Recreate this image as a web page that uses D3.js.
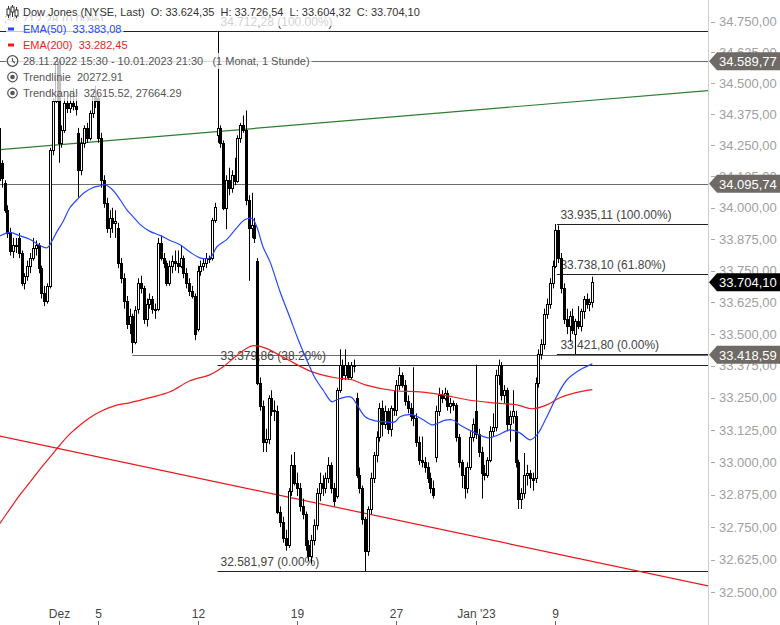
<!DOCTYPE html>
<html><head><meta charset="utf-8">
<script src="https://cdn.jsdelivr.net/npm/d3@7"></script>
<style>
body{margin:0;background:#fff}
svg{display:block;font-family:"Liberation Sans",Arial,sans-serif}
</style>
</head><body>
<svg id="chart" width="780" height="625"></svg>
<script>
// ---------- DATA ----------
// hourly candles 28.11.2022 15:30 .. 10.01.2023 21:30, [open, high, low, close]
const ohlc = [
[34320,34340,34080,34110],[34180,34190,34080,34120],[34100,34110,33980,33990],[33990,34010,33880,33900],[33900,33920,33810,33830],[33830,33880,33800,33850],[33850,33880,33820,33849],
[33880,33900,33800,33820],[33820,33830,33690,33700],[33700,33740,33676,33730],[33730,33790,33710,33770],[33770,33820,33740,33800],[33800,33880,33790,33840],[33840,33870,33810,33852],
[33852,33860,33740,33760],[33760,33770,33640,33660],[33660,33690,33610,33630],[33630,33700,33620,33690],[33690,34240,33680,34230],[34230,34440,34210,34430],[34430,34600,34420,34589.77],
[34589.77,34596,34180,34260],[34260,34330,34240,34310],[34310,34440,34300,34420],[34420,34450,34380,34400],[34400,34470,34380,34420],[34420,34480,34390,34410],[34410,34440,34370,34395],
[34300,34320,34040,34150],[34150,34280,34130,34260],[34260,34330,34240,34320],[34320,34340,34260,34280],[34280,34390,34270,34380],[34380,34470,34360,34450],[34450,34490,34400,34429],
[34440,34460,34260,34280],[34280,34300,34080,34110],[34110,34130,34000,34020],[34020,34040,33900,33920],[33920,33990,33880,33960],[33960,34000,33900,33940],[33940,33990,33880,33947],
[33920,33940,33760,33780],[33780,33800,33700,33720],[33720,33740,33600,33630],[33630,33650,33520,33540],[33540,33600,33500,33570],[33570,33580,33425,33470],[33470,33610,33460,33596],
[33600,33720,33580,33700],[33700,33730,33660,33680],[33680,33690,33540,33560],[33560,33640,33530,33620],[33620,33660,33600,33640],[33640,33650,33580,33600],[33600,33620,33560,33597],
[33600,33880,33590,33860],[33860,33890,33790,33800],[33800,33820,33760,33780],[33780,33790,33690,33700],[33700,33790,33690,33770],[33770,33810,33740,33790],[33790,33830,33750,33781],
[33781,33830,33740,33770],[33770,33850,33760,33800],[33800,33810,33720,33740],[33740,33760,33680,33700],[33700,33720,33650,33670],[33670,33690,33640,33650],[33650,33660,33476,33500],
[33520,33770,33510,33750],[33750,33790,33730,33770],[33770,33800,33750,33780],[33780,33820,33760,33800],[33800,33810,33780,33800],[33800,33960,33790,33950],[33950,34020,33940,34005],
[34290,34712.28,34260,34320],[34320,34330,34240,34260],[34260,34270,33990,34000],[34000,34130,33915,34110],[34110,34160,34050,34080],[34080,34150,34060,34130],[34130,34200,34090,34108],
[34108,34290,34100,34280],[34280,34340,34260,34330],[34330,34370,34300,34310],[34310,34390,34010,34030],[34030,34050,33710,33920],[33920,34060,33880,33930],[33930,33960,33860,33880],
[33790,33800,33300,33310],[33310,33330,33200,33220],[33220,33240,33040,33080],[33080,33130,33040,33090],[33090,33260,33070,33250],[33250,33280,33180,33200],[33200,33240,33160,33202],
[33200,33220,32800,32810],[32810,32830,32750,32770],[32770,32790,32690,32710],[32710,32740,32660,32680],[32680,32900,32670,32890],[32890,33030,32870,32990],[32990,33040,32910,32920],
[32920,32960,32870,32900],[32900,32920,32810,32830],[32830,32860,32780,32800],[32800,32810,32660,32680],[32680,32700,32620,32640],[32640,32720,32610,32700],[32700,32780,32680,32757],
[32757,32900,32740,32880],[32880,32960,32850,32920],[32920,32950,32870,32900],[32900,32960,32880,32940],[32940,33020,32920,32990],[32990,33000,32880,32900],[32900,32920,32830,32850],
[32870,33290,32860,33280],[33280,33440,33270,33380],[33380,33400,33320,33340],[33340,33440,33320,33380],[33380,33390,33320,33330],[33330,33390,33320,33380],[33380,33400,33350,33376],
[33250,33270,32940,32950],[32950,32980,32880,32900],[32900,32910,32760,32780],[32780,32790,32581.97,32660],[32660,32830,32640,32820],[32820,32960,32800,32940],[32940,33040,32920,33027],
[33027,33120,33000,33100],[33100,33230,33080,33210],[33210,33240,33100,33150],[33150,33220,33130,33200],[33200,33210,33110,33130],[33130,33220,33100,33210],[33210,33280,33180,33203],
[33203,33320,33180,33300],[33300,33370,33280,33340],[33340,33350,33290,33300],[33300,33320,33220,33240],[33240,33260,33190,33210],[33210,33230,33160,33180],[33180,33370,33140,33170],
[33170,33190,33060,33080],[33080,33100,32990,33010],[33010,33100,32980,33000],[33000,33020,32960,32980],[32980,33000,32920,32940],[32940,32960,32880,32900],[32900,32930,32860,32875],
[33020,33220,33000,33200],[33200,33290,33180,33260],[33260,33280,33230,33250],[33250,33290,33240,33270],[33270,33280,33200,33220],[33220,33250,33190,33230],[33230,33240,33200,33221],
[33221,33230,33080,33100],[33100,33110,32980,33000],[33000,33010,32900,32950],[32950,32980,32860,32900],[32900,33000,32880,32980],[32980,33120,32970,33100],[33100,33170,33080,33147],
[33200,33380,33090,33110],[33110,33130,33020,33040],[33040,33060,32860,32960],[32960,32990,32930,32950],[32950,33020,32940,33010],[33010,33140,33000,33120],[33120,33190,33100,33136],
[33136,33360,33120,33340],[33340,33400,33300,33380],[33380,33390,33240,33260],[33260,33300,33230,33280],[33280,33290,33120,33150],[33150,33200,33080,33180],[33180,33280,33150,33200],
[33180,33200,32980,33000],[33000,33010,32820,32860],[32860,32900,32820,32880],[32880,33036,32860,32950],[32950,32990,32910,32960],[32960,32970,32900,32940],[32940,32960,32890,32930],
[32940,33330,32920,33310],[33310,33440,33290,33420],[33420,33480,33400,33460],[33460,33600,33440,33580],[33580,33640,33560,33620],[33620,33720,33600,33700],[33700,33790,33680,33770],
[33770,33935.11,33760,33910],[33910,33930,33780,33800],[33800,33820,33660,33680],[33680,33700,33540,33560],[33560,33600,33500,33530],[33530,33590,33470,33570],[33570,33600,33500,33518],
[33500,33560,33421.8,33550],[33550,33610,33520,33530],[33530,33600,33510,33590],[33590,33650,33560,33640],[33640,33660,33600,33620],[33620,33640,33590,33624.35],[33624.35,33726.54,33604.32,33704.10]
];
// EMA(50): [candle index, value]
const ema50 = [[0,33886],[4,33902],[7,33890],[11,33874],[14,33853],[17,33841],[19,33874],[20.5,33906],[22.6,33945],[25,34000],[27.5,34032],[30,34060],[33,34080],[35.6,34088],[37.4,34092],[40,34072],[42.7,34032],[45,33993],[47.2,33965],[49.7,33934],[53.2,33906],[56.7,33890],[60.3,33870],[63.8,33853],[67.3,33824],[70.8,33801],[74.4,33801],[76.8,33845],[80.3,33874],[83.9,33922],[86.7,33953],[89.2,33957],[90.9,33922],[93,33845],[95.5,33785],[99,33668],[102.5,33565],[105.4,33479],[108.9,33387],[111.3,33329],[114.1,33282],[117.3,33235],[119,33243],[123,33255],[124.4,33251],[126.5,33216],[129,33177],[132.5,33161],[136,33157],[139.5,33157],[141.3,33177],[145.9,33184],[149.4,33165],[152.9,33145],[156.4,33161],[159.6,33165],[162.4,33145],[167,33118],[172.3,33095],[175.8,33106],[180,33126],[183.5,33114],[187.1,33087],[189.5,33106],[193,33177],[196.6,33259],[200.1,33321],[204.7,33360],[209,33383.08]];
// EMA(200)
const ema200 = [[0,32759],[3.9,32820],[7.4,32874],[11,32924],[14.5,32974],[18,33020],[21.5,33067],[25,33110],[28.6,33145],[32,33173],[35.6,33196],[40.9,33220],[46,33231],[53.2,33251],[60.3,33274],[67.3,33317],[74.4,33341],[79,33372],[84.9,33426],[89.2,33454],[93.7,33446],[101.8,33399],[110.3,33352],[118.4,33329],[124.4,33321],[129,33301],[139.5,33278],[148.3,33274],[156.4,33262],[164.9,33243],[174,33231],[182.5,33223],[187.8,33208],[193,33223],[197.6,33251],[202.9,33270],[209,33282.45]];
const trendLine = [[0,34232],[250,34471]];
const trendChannel = [[0,33102],[250,32525]];
const greyLevels = [34589.77, 34095.74, 33418.59];
const greyStart = [-1, -1, 47];
const fib1Levels = [34712.28, 33379.86, 32581.97];
const fib1Labels = ["34.712,28 (100.00%)", "33.379,86 (38.20%)", "32.581,97 (0.00%)"];
const fib2Levels = [33935.11, 33738.10, 33421.80];
const fib2Labels = ["33.935,11 (100.00%)", "33.738,10 (61.80%)", "33.421,80 (0.00%)"];
const xTickIdx = [21, 35, 70, 105, 140, 168, 196];
const xTickLabels = ["Dez", "5", "12", "19", "27", "Jan '23", "9"];
const yTickValues = [34750,34625,34500,34375,34250,34125,34000,33875,33750,33625,33500,33375,33250,33125,33000,32875,32750,32625,32500];

// ---------- SETUP ----------
const svg = d3.select("#chart");
const W = 780, H = 625, plotR = 708;
const x = d3.scaleLinear().domain([0, 209]).range([-1.1, 592.3]);
const y = d3.scaleLog().domain([32581.97, 34712.28]).range([571, 31]);
const de = d3.formatLocale({decimal: ",", thousands: ".", grouping: [3], currency: ["", ""]});
const fmt = de.format(",.2f");

svg.append("rect").attr("width", W).attr("height", H).attr("fill", "#fff");
svg.append("defs").append("clipPath").attr("id", "plot")
  .append("rect").attr("x", 0).attr("y", 0).attr("width", plotR).attr("height", 605);
const g = svg.append("g").attr("clip-path", "url(#plot)");

// grey horizontal lines
greyLevels.forEach((v, k) => {
  g.append("line").attr("x1", greyStart[k] < 0 ? 0 : x(greyStart[k])).attr("x2", plotR)
    .attr("y1", Math.round(y(v)) + 0.5).attr("y2", Math.round(y(v)) + 0.5)
    .attr("stroke", "#6b6b6b").attr("stroke-width", 1);
});
// fib 1
g.append("line").attr("x1", 0).attr("x2", x(77)).attr("y1", Math.round(y(fib1Levels[0])) + 0.5)
  .attr("y2", Math.round(y(fib1Levels[0])) + 0.5).attr("stroke", "#222");
g.append("text").attr("x", 5).attr("y", y(fib1Levels[0]) - 11).attr("dominant-baseline", "central")
  .attr("font-size", 12).attr("fill", "#444").text("34.712,28 (0.00%)");
fib1Levels.forEach((v, k) => {
  const yy = Math.round(y(v)) + 0.5;
  g.append("line").attr("x1", x(77)).attr("x2", plotR).attr("y1", yy).attr("y2", yy).attr("stroke", "#222");
  g.append("text").attr("x", x(77) + 3).attr("y", yy - 10).attr("dominant-baseline", "central")
    .attr("font-size", 12).attr("fill", "#444").text(fib1Labels[k]);
});
fib2Levels.forEach((v, k) => {
  const yy = Math.round(y(v)) + 0.5;
  g.append("line").attr("x1", x(196) + 1.5).attr("x2", plotR).attr("y1", yy).attr("y2", yy).attr("stroke", "#222");
  g.append("text").attr("x", x(196) + 5).attr("y", yy - 10).attr("dominant-baseline", "central")
    .attr("font-size", 12).attr("fill", "#444").text(fib2Labels[k]);
});

// trend lines
const straight = d3.line().x(d => x(d[0])).y(d => y(d[1]));
g.append("path").attr("d", straight(trendLine)).attr("fill", "none").attr("stroke", "#2e7d32").attr("stroke-width", 1.2);
g.append("path").attr("d", straight(trendChannel)).attr("fill", "none").attr("stroke", "#e8141c").attr("stroke-width", 1.2);

// candles
const cg = g.append("g");
ohlc.forEach((d, i) => {
  const [o, h, l, c] = d;
  const cx = Math.round(x(i));
  cg.append("line").attr("x1", cx + 0.5).attr("x2", cx + 0.5).attr("y1", y(h)).attr("y2", y(l))
    .attr("stroke", "#000").attr("stroke-width", 1);
  const top = y(Math.max(o, c)), bot = y(Math.min(o, c));
  cg.append("rect").attr("x", cx - 0.5).attr("width", 2)
    .attr("y", Math.round(top) + 0.5).attr("height", Math.max(1, Math.round(bot) - Math.round(top)))
    .attr("fill", c >= o ? "#fff" : "#000").attr("stroke", "#000").attr("stroke-width", 1);
});

// EMAs
const smooth = d3.line().x(d => x(d[0])).y(d => y(d[1])).curve(d3.curveCatmullRom);
g.append("path").attr("d", smooth(ema200)).attr("fill", "none").attr("stroke", "#ee1c1c").attr("stroke-width", 1.2);
g.append("path").attr("d", smooth(ema50)).attr("fill", "none").attr("stroke", "#2448ff").attr("stroke-width", 1.2);

// right axis
svg.append("line").attr("x1", plotR + 0.5).attr("x2", plotR + 0.5).attr("y1", 0).attr("y2", H)
  .attr("stroke", "#d0d0d0");
const ya = svg.append("g");
yTickValues.forEach(v => {
  const yy = y(v);
  ya.append("line").attr("x1", 711).attr("x2", 715).attr("y1", Math.round(yy) + 0.5).attr("y2", Math.round(yy) + 0.5)
    .attr("stroke", "#aaa");
  ya.append("text").attr("x", 719).attr("y", yy).attr("dominant-baseline", "central")
    .attr("font-size", 13).attr("fill", "#a0a0a0").text(fmt(v));
});
// price boxes
const boxes = [[34589.77, "#6f6a66"], [34095.74, "#6f6a66"], [33418.59, "#6f6a66"], [ohlc[ohlc.length - 1][3], "#000"]];
boxes.forEach(([v, col]) => {
  const yy = y(v);
  svg.append("path").attr("d", `M709,${yy} L717,${yy - 9} L780,${yy - 9} L780,${yy + 9} L717,${yy + 9} Z`).attr("fill", col);
  svg.append("text").attr("x", 719).attr("y", yy + 0.5).attr("dominant-baseline", "central")
    .attr("font-size", 13).attr("fill", "#fff").text(fmt(v));
});

// x axis
xTickIdx.forEach((idx, k) => {
  const xx = Math.round(x(idx)) + 0.5;
  svg.append("line").attr("x1", xx).attr("x2", xx).attr("y1", 621).attr("y2", 625).attr("stroke", "#666");
  svg.append("text").attr("x", xx).attr("y", 614).attr("text-anchor", "middle").attr("dominant-baseline", "central")
    .attr("font-size", 12).attr("fill", "#444").text(xTickLabels[k]);
});

// legend
const last = ohlc[ohlc.length - 1];
const leg = svg.append("g");
const rows = [
  {y: 12, color: "#333", text: `Dow Jones (NYSE, Last)  O: ${fmt(last[0])}  H: ${fmt(last[1])}  L: ${fmt(last[2])}  C: ${fmt(last[3])}`, icon: "candle", h0: 10, h1: 14},
  {y: 29, color: "#2448ff", text: `EMA(50)  ${fmt(ema50[ema50.length - 1][1])}`, icon: "dash", h0: 8, h1: 8},
  {y: 45, color: "#ee1c1c", text: `EMA(200)  ${fmt(ema200[ema200.length - 1][1])}`, icon: "dash", h0: 8, h1: 8},
  {y: 61, color: "#555", text: "28.11.2022 15:30 - 10.01.2023 21:30   (1 Monat, 1 Stunde)", icon: "clock", h0: 8, h1: 8},
  {y: 77, color: "#555", text: "Trendlinie  20272.91", icon: "target", h0: 8, h1: 8},
  {y: 93, color: "#555", text: "Trendkanal  32615.52, 27664.29", icon: "target", h0: 8, h1: 8}
];
rows.forEach(r => {
  const bg = leg.append("rect").attr("x", 6).attr("y", r.y - r.h0).attr("height", r.h0 + r.h1).attr("fill", "#fff").attr("opacity", 0.75);
  const t = leg.append("text").attr("x", 23).attr("y", r.y).attr("dominant-baseline", "central")
    .attr("font-size", 11).attr("fill", r.color).attr("xml:space", "preserve").style("white-space", "pre").text(r.text);
  bg.attr("width", 19 + t.node().getComputedTextLength());
  if (r.icon === "dash") {
    leg.append("rect").attr("x", 8).attr("y", r.y - 1.5).attr("width", 6).attr("height", 3).attr("fill", r.color);
  } else if (r.icon === "clock") {
    leg.append("circle").attr("cx", 12.5).attr("cy", r.y).attr("r", 5.3).attr("fill", "none").attr("stroke", "#555").attr("stroke-width", 1.3);
    leg.append("path").attr("d", `M12.5,${r.y - 3} L12.5,${r.y} L15,${r.y + 2}`).attr("fill", "none").attr("stroke", "#555").attr("stroke-width", 1.2);
  } else if (r.icon === "target") {
    leg.append("circle").attr("cx", 12.5).attr("cy", r.y).attr("r", 4.8).attr("fill", "none").attr("stroke", "#555").attr("stroke-width", 1.2);
    leg.append("circle").attr("cx", 12.5).attr("cy", r.y).attr("r", 2.3).attr("fill", "#555");
  } else if (r.icon === "candle") {
    [[8.5, 6, 18, 9, 15], [12.5, 5, 17, 7, 12], [16.5, 7, 18, 10, 16]].forEach(([cx, a, b, t0, t1]) => {
      leg.append("line").attr("x1", cx).attr("x2", cx).attr("y1", a).attr("y2", b).attr("stroke", "#333");
      leg.append("rect").attr("x", cx - 1.5).attr("y", t0).attr("width", 3).attr("height", t1 - t0).attr("fill", "#fff").attr("stroke", "#333");
    });
  }
});
</script>
</body></html>
